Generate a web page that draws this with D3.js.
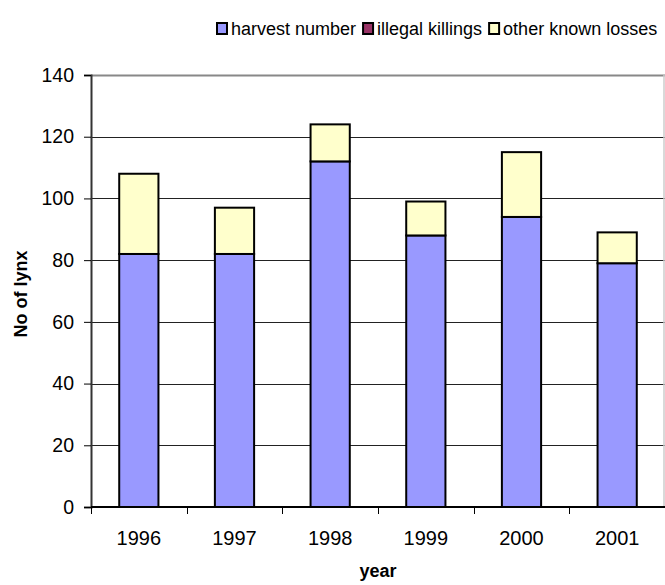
<!DOCTYPE html>
<html>
<head>
<meta charset="utf-8">
<script src="https://cdn.jsdelivr.net/npm/d3@7"></script>
<style>
  body { margin: 0; background: #fff; }
  svg { font-family: "Liberation Sans", Arial, sans-serif; }
</style>
</head>
<body>
<svg id="chart" width="665" height="585"></svg>
<script>
// data
var years = ["1996", "1997", "1998", "1999", "2000", "2001"];
var harvest = [82, 82, 112, 88, 94, 79];
var illegal = [0, 0, 0, 0, 0, 0];
var other = [26, 15, 12, 11, 21, 10];
var seriesNames = ["harvest number", "illegal killings", "other known losses"];
var seriesColors = ["#9999ff", "#993366", "#ffffcc"];
var yTicks = [0, 20, 40, 60, 80, 100, 120, 140];

var svg = d3.select("#chart");
var mLeft = 91, mRight = 665, mTop = 75, mBottom = 507;

var rows = years.map(function (y, i) {
    return {year: y, harvest: harvest[i], illegal: illegal[i], other: other[i]};
});
var stack = d3.stack().keys(["harvest", "illegal", "other"])(rows);

var x = d3.scaleBand().domain(years).range([mLeft, mRight]).paddingInner(0).paddingOuter(0);
var y = d3.scaleLinear().domain([0, 140]).range([mBottom, mTop]);
var bw = x.bandwidth() * 0.41;

// gridlines
svg.append("g").selectAll("line")
    .data(yTicks.filter(function (d) { return d > 0 && d < 140; }))
    .enter().append("line")
    .attr("x1", mLeft).attr("x2", mRight)
    .attr("y1", function (d) { return Math.round(y(d)) + 0.5; })
    .attr("y2", function (d) { return Math.round(y(d)) + 0.5; })
    .attr("stroke", "#222").attr("stroke-width", 1);

// plot frame top/right
svg.append("line").attr("x1", mLeft).attr("x2", mRight)
    .attr("y1", Math.round(y(140)) + 0.5).attr("y2", Math.round(y(140)) + 0.5)
    .attr("stroke", "#888").attr("stroke-width", 2);
svg.append("line").attr("x1", mRight - 1).attr("x2", mRight - 1)
    .attr("y1", y(140)).attr("y2", y(0))
    .attr("stroke", "#ccc").attr("stroke-width", 1.5);

// bars
svg.append("g").selectAll("g")
    .data(stack).enter().append("g")
    .attr("fill", function (d, i) { return seriesColors[i]; })
    .selectAll("rect")
    .data(function (d) { return d.filter(function (s) { return s[1] > s[0]; }); })
    .enter().append("rect")
    .attr("x", function (d) { return x(d.data.year) + (x.bandwidth() - bw) / 2; })
    .attr("width", bw)
    .attr("y", function (d) { return y(d[1]); })
    .attr("height", function (d) { return y(d[0]) - y(d[1]); })
    .attr("stroke", "#000").attr("stroke-width", 2);

// y axis
var yAxis = svg.append("g")
    .attr("transform", "translate(" + mLeft + ",0)")
    .call(d3.axisLeft(y).tickValues(yTicks).tickSize(7).tickPadding(10));
yAxis.select(".domain").attr("stroke", "#333").attr("stroke-width", 2);
yAxis.selectAll(".tick line").attr("stroke", "#000");
yAxis.selectAll("text").attr("font-size", 19.5).attr("fill", "#000")
    .attr("font-family", "Liberation Sans, Arial, sans-serif");

// x axis: ticks at category boundaries
var xg = svg.append("g").attr("transform", "translate(0," + mBottom + ")");
xg.append("line").attr("x1", mLeft).attr("x2", mRight).attr("y1", 0).attr("y2", 0)
    .attr("stroke", "#000").attr("stroke-width", 2);
xg.selectAll("line.tk").data(years).enter().append("line").attr("class", "tk")
    .attr("x1", function (d) { return Math.round(x(d)) + 0.5; })
    .attr("x2", function (d) { return Math.round(x(d)) + 0.5; })
    .attr("y1", 0).attr("y2", 7).attr("stroke", "#000");
xg.selectAll("text").data(years).enter().append("text")
    .attr("x", function (d) { return x(d) + x.bandwidth() / 2; })
    .attr("y", 38)
    .attr("text-anchor", "middle").attr("font-size", 20)
    .text(function (d) { return d; });

// axis titles
svg.append("text").attr("x", 378).attr("y", 577).attr("text-anchor", "middle")
    .attr("font-size", 18).attr("font-weight", "bold").text("year");
svg.append("text").attr("transform", "translate(27,294) rotate(-90)")
    .attr("text-anchor", "middle").attr("font-size", 18).attr("font-weight", "bold")
    .text("No of lynx");

// legend, items laid out one after another
var legG = svg.append("g").attr("transform", "translate(216,22)");
var cx = 0;
seriesNames.forEach(function (name, i) {
    var g = legG.append("g").attr("transform", "translate(" + cx + ",0)");
    g.append("rect").attr("x", 1).attr("y", 1).attr("width", 10).attr("height", 11)
        .attr("fill", seriesColors[i]).attr("stroke", "#000").attr("stroke-width", 2);
    var t = g.append("text").attr("x", 15).attr("y", 12.5).attr("font-size", 18).text(name);
    cx += 15 + t.node().getComputedTextLength() + 6;
});
</script>
</body>
</html>
